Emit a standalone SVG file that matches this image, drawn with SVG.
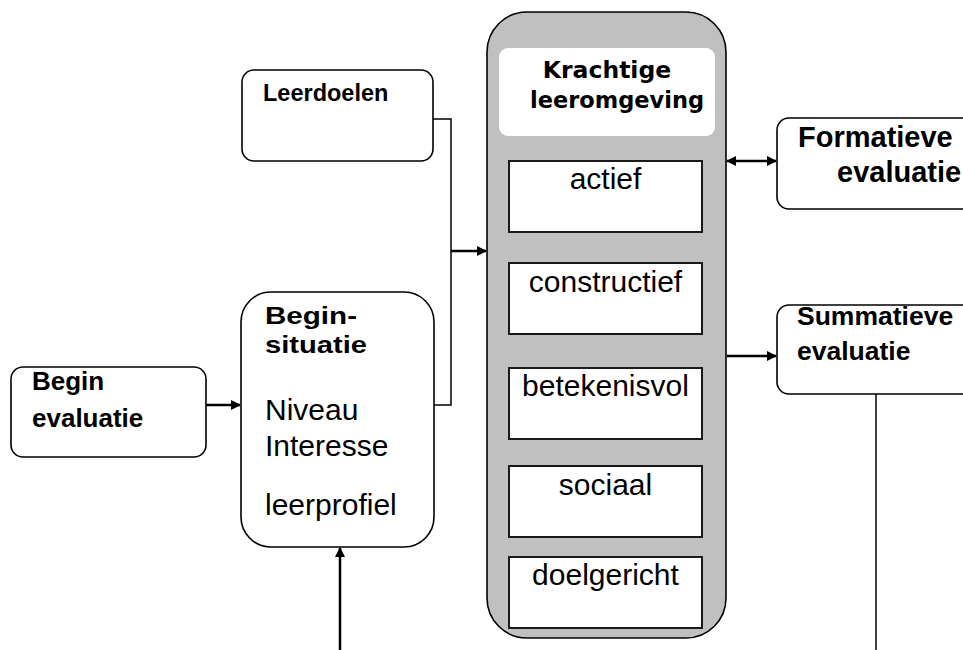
<svg xmlns="http://www.w3.org/2000/svg" width="963" height="650" viewBox="0 0 963 650">
<defs>
<style>
.box{fill:#fff;stroke:#000;stroke-width:1.6}
.inner{fill:#fff;stroke:#1a1a1a;stroke-width:2}
.col{fill:#c0c0c0;stroke:#000;stroke-width:1.6}
.b{font-family:"Liberation Sans",Arial,sans-serif;font-weight:bold;fill:#000}
.r{font-family:"Liberation Sans",Arial,sans-serif;fill:#000}
.d{font-family:"DejaVu Sans",Verdana,sans-serif;font-weight:bold;fill:#000}
.thin{fill:none;stroke:#000;stroke-width:1.5}
.arr{fill:none;stroke:#000;stroke-width:2.5}
</style>
<marker id="ah" viewBox="0 0 10 10" refX="9" refY="5" markerWidth="4" markerHeight="4" orient="auto-start-reverse" markerUnits="strokeWidth">
<path d="M0,0 L10,5 L0,10 z" fill="#000"/>
</marker>
</defs>
<rect width="963" height="650" fill="#fff"/>

<g id="connectors">
<polyline class="thin" points="433,119 451,119 451,405 433,405"/>
<line class="arr" x1="451" y1="251" x2="486" y2="251" marker-end="url(#ah)"/>
<line class="arr" x1="206" y1="405" x2="240" y2="405" marker-end="url(#ah)"/>
<line class="arr" x1="340" y1="650" x2="340" y2="548" marker-end="url(#ah)"/>
<line class="arr" x1="727" y1="161" x2="776" y2="161" marker-start="url(#ah)" marker-end="url(#ah)"/>
<line class="arr" x1="727" y1="356" x2="776" y2="356" marker-end="url(#ah)"/>
<line class="thin" x1="876" y1="394" x2="876" y2="650"/>
</g>

<g id="leeromgeving">
<rect class="col" x="487" y="12" width="239" height="626" rx="40" ry="40"/>
<rect x="499" y="48" width="216" height="88" rx="9" fill="#fff"/>
<text class="d" font-size="23.5" x="607" y="78" text-anchor="middle">Krachtige</text>
<text class="d" font-size="22.5" x="617" y="108" text-anchor="middle">leeromgeving</text>
</g>
<g id="actief">
<rect class="inner" x="509" y="161" width="193" height="71"/>
<text class="r" font-size="30" x="605.5" y="189" text-anchor="middle">actief</text>
</g>
<g id="constructief">
<rect class="inner" x="509" y="263" width="193" height="71"/>
<text class="r" font-size="30" x="605.5" y="292" text-anchor="middle">constructief</text>
</g>
<g id="betekenisvol">
<rect class="inner" x="509" y="368" width="193" height="71"/>
<text class="r" font-size="30" x="605.5" y="396" text-anchor="middle">betekenisvol</text>
</g>
<g id="sociaal">
<rect class="inner" x="509" y="466" width="193" height="71"/>
<text class="r" font-size="30" x="605.5" y="495" text-anchor="middle">sociaal</text>
</g>
<g id="doelgericht">
<rect class="inner" x="509" y="557" width="193" height="71"/>
<text class="r" font-size="30" x="605.5" y="585" text-anchor="middle">doelgericht</text>
</g>

<g id="leerdoelen">
<rect class="box" x="242" y="70" width="191" height="91" rx="12"/>
<text class="b" font-size="23.5" x="263" y="101">Leerdoelen</text>
</g>

<g id="beginsituatie">
<rect class="box" x="241" y="292" width="193" height="255" rx="30"/>
<text class="b" font-size="24.5" x="265" y="324" textLength="92" lengthAdjust="spacingAndGlyphs">Begin-</text>
<text class="b" font-size="24.5" x="265" y="353" textLength="102" lengthAdjust="spacingAndGlyphs">situatie</text>
<text class="r" font-size="30" x="265" y="420">Niveau</text>
<text class="r" font-size="30" x="265" y="456">Interesse</text>
<text class="r" font-size="30" x="265" y="515">leerprofiel</text>
</g>

<g id="beginevaluatie">
<rect class="box" x="11" y="367" width="195" height="90" rx="12"/>
<text class="b" font-size="26" x="32" y="390">Begin</text>
<text class="b" font-size="26" x="32" y="427">evaluatie</text>
</g>

<g id="formatieve">
<rect class="box" x="777" y="118" width="200" height="91" rx="12"/>
<text class="b" font-size="29" x="798" y="147">Formatieve</text>
<text class="b" font-size="29" x="837" y="182">evaluatie</text>
</g>

<g id="summatieve">
<rect class="box" x="777" y="305" width="200" height="89" rx="12"/>
<text class="b" font-size="26.5" x="797" y="325">Summatieve</text>
<text class="b" font-size="26.5" x="797" y="360">evaluatie</text>
</g>
</svg>
